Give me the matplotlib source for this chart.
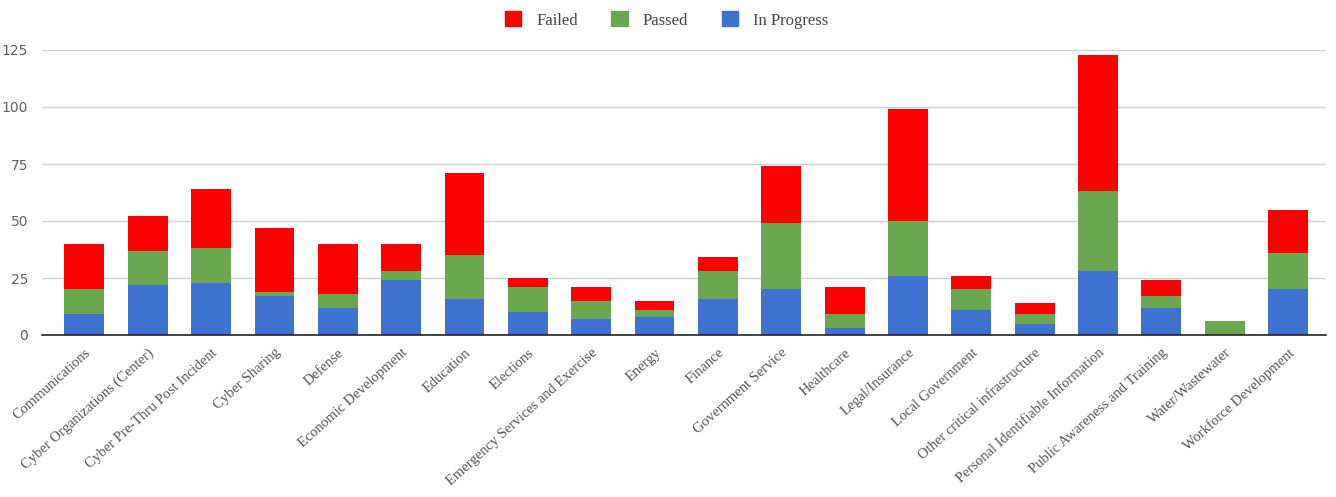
import matplotlib
matplotlib.use("Agg")
import matplotlib.pyplot as plt
import numpy as np
from matplotlib.patches import Patch

categories = ["Communications", "Cyber Organizations (Center)", "Cyber Pre-Thru Post Incident",
              "Cyber Sharing", "Defense", "Economic Development", "Education", "Elections",
              "Emergency Services and Exercise", "Energy", "Finance", "Government Service",
              "Healthcare", "Legal/Insurance", "Local Government", "Other critical infrastructure",
              "Personal Identifiable Information", "Public Awareness and Training",
              "Water/Wastewater", "Workforce Development"]
in_progress = [9, 22, 23, 17, 12, 24, 16, 10, 7, 8, 16, 20, 3, 26, 11, 5, 28, 12, 0, 20]
passed      = [11, 15, 15, 2, 6, 4, 19, 11, 8, 3, 12, 29, 6, 24, 9, 4, 35, 5, 6, 16]
failed      = [20, 15, 26, 28, 22, 12, 36, 4, 6, 4, 6, 25, 12, 49, 6, 5, 60, 7, 0, 19]
yticks = [0, 25, 50, 75, 100, 125]

RED, GREEN, BLUE = "#ff0000", "#6aa84f", "#3d72d0"

fig = plt.figure(figsize=(13.36, 4.97), dpi=100)
ax = fig.add_axes([42/1336, 1-335/497, (1326-42)/1336, (335-50)/497])

x = np.arange(len(categories))
w = 0.63
ip = np.array(in_progress); ps = np.array(passed); fl = np.array(failed)
ax.bar(x, ip, w, color=BLUE, zorder=3)
ax.bar(x, ps, w, bottom=ip, color=GREEN, zorder=3)
ax.bar(x, fl, w, bottom=ip + ps, color=RED, zorder=3)

ax.set_xlim(-0.67, len(categories) - 1 + 0.6)
ax.set_ylim(0, 125)
ax.set_yticks(yticks)
ax.set_yticklabels([str(t) for t in yticks], fontsize=10, color="#606060", family="DejaVu Sans")
ax.yaxis.grid(True, color="#d0d0d0", linewidth=1, zorder=0)
ax.set_axisbelow(True)
for s in ["top", "right", "left"]:
    ax.spines[s].set_visible(False)
ax.spines["bottom"].set_color("#222222")
ax.spines["bottom"].set_linewidth(1.2)
ax.spines["bottom"].set_zorder(4)
ax.tick_params(axis="both", length=0)
ax.tick_params(axis="y", pad=10)

ax.set_xticks(x)
ax.set_xticklabels(categories, rotation=42, ha="right", rotation_mode="anchor",
                   fontsize=10.5, color="#555555", family="Liberation Serif")
ax.tick_params(axis="x", pad=8)

handles = [Patch(color=RED, label="Failed"), Patch(color=GREEN, label="Passed"),
           Patch(color=BLUE, label="In Progress")]
fig.legend(handles=handles, loc="center", bbox_to_anchor=(0.499, 1-20/497), ncol=3,
           frameon=False, prop={"family": "Liberation Serif", "size": 12},
           handlelength=1.0, handleheight=1.0, columnspacing=2.0, handletextpad=0.9,
           labelcolor="#444444")

fig.savefig("out.png", dpi=100)
